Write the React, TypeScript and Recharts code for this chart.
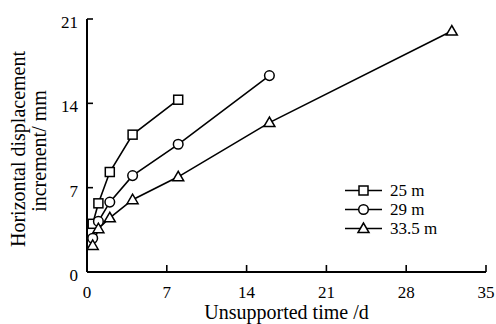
import React from 'react';
import { LineChart, Line, XAxis, YAxis } from 'recharts';

const days25 = [0.5, 1, 2, 4, 8];
const disp25 = [4.0, 5.7, 8.3, 11.4, 14.3];
const days29 = [0.5, 1, 2, 4, 8, 16];
const disp29 = [2.8, 4.2, 5.8, 8.0, 10.6, 16.3];
const days335 = [0.5, 1, 2, 4, 8, 16, 32];
const disp335 = [2.2, 3.6, 4.5, 6.0, 7.9, 12.4, 20.0];

const xTicks = [0, 7, 14, 21, 28, 35];
const yTicks = [0, 7, 14, 21];
const seriesNames = ['25 m', '29 m', '33.5 m'];
const markerTypes = ['square', 'circle', 'triangle'];

const FONT = 'Liberation Serif';

const toData = (xs: number[], ys: number[]) => xs.map((t, i) => ({ t, v: ys[i] }));
const data25 = toData(days25, disp25);
const data29 = toData(days29, disp29);
const data335 = toData(days335, disp335);

function Marker({ type, cx, cy }: { type: string; cx: number; cy: number }) {
  if (type === 'square') {
    return <rect x={cx - 4.5} y={cy - 4.5} width={9} height={9} fill="#fff" stroke="#000" strokeWidth={1.5} />;
  }
  if (type === 'circle') {
    return <circle cx={cx} cy={cy} r={4.8} fill="#fff" stroke="#000" strokeWidth={1.5} />;
  }
  return (
    <polygon
      points={`${cx},${cy - 5.5} ${cx - 5.5},${cy + 4} ${cx + 5.5},${cy + 4}`}
      fill="#fff"
      stroke="#000"
      strokeWidth={1.5}
    />
  );
}

const makeDot = (type: string) => (props: any) => {
  const { cx, cy, index } = props;
  if (cx == null || cy == null) return <g key={`d-${type}-${index}`} />;
  return (
    <g key={`d-${type}-${index}`}>
      <Marker type={type} cx={cx} cy={cy} />
    </g>
  );
};

const X_MARGIN = 14;
const Y_MARGIN = 9;
const tickStyle = { fontFamily: FONT, fontSize: 17, fill: '#000' };
const titleStyle = { fontFamily: FONT, fontSize: 20, fill: '#000' };

const XTick = (p: any) => {
  const axisY = p.y - X_MARGIN;
  return (
    <g>
      <line x1={p.x} x2={p.x} y1={axisY} y2={axisY - 7} stroke="#000" strokeWidth={1.6} />
      <text x={p.x} y={p.y} dy="0.71em" textAnchor="middle" style={tickStyle}>
        {p.payload.value}
      </text>
    </g>
  );
};

const YTick = (p: any) => {
  const axisX = p.x + Y_MARGIN;
  return (
    <g>
      <line x1={axisX} x2={axisX + 6} y1={p.y} y2={p.y} stroke="#000" strokeWidth={1.6} />
      <text x={p.x} y={p.y} dy={9} textAnchor="end" style={tickStyle}>
        {p.payload.value}
      </text>
    </g>
  );
};

const YLabel = (props: any) => {
  const vb = props.viewBox || { x: 0, y: 19, width: 87, height: 253 };
  const c = vb.y + vb.height / 2;
  const c1 = c + 3.5;
  const c2 = c + 5.5;
  return (
    <g>
      <text x={25} y={c1} transform={`rotate(-90 25 ${c1})`} textAnchor="middle" style={titleStyle}>
        Horizontal displacement
      </text>
      <text x={46} y={c2} transform={`rotate(-90 46 ${c2})`} textAnchor="middle" style={titleStyle}>
        increment/ mm
      </text>
    </g>
  );
};

const LegendBox = () => (
  <div style={{ position: 'absolute', left: 345, top: 180.5, fontFamily: FONT, fontSize: 17, color: '#000' }}>
    {seriesNames.map((name, i) => (
      <div key={name} style={{ display: 'flex', alignItems: 'center', height: 19, lineHeight: '19px' }}>
        <svg width={37} height={19} style={{ display: 'block' }}>
          <line x1={0} x2={37} y1={9.5} y2={9.5} stroke="#000" strokeWidth={1.5} />
          <Marker type={markerTypes[i]} cx={18.5} cy={9.5} />
        </svg>
        <span style={{ marginLeft: 8, whiteSpace: 'nowrap' }}>{name}</span>
      </div>
    ))}
  </div>
);

export default function App() {
  return (
    <div style={{ position: 'absolute', left: 0, top: 0, width: 496, height: 324, background: '#fff' }}>
      <LineChart width={496} height={324} margin={{ top: 19, right: 10, bottom: 0, left: 0 }}>
        <XAxis
          type="number"
          dataKey="t"
          domain={[0, 35]}
          ticks={xTicks}
          interval={0}
          height={52}
          tickSize={0}
          tickMargin={X_MARGIN}
          tickLine={false}
          tick={XTick}
          axisLine={{ stroke: '#000', strokeWidth: 2 }}
          allowDataOverflow
          label={{
            value: 'Unsupported time /d',
            position: 'insideBottom',
            offset: 5,
            style: titleStyle,
          }}
        />
        <YAxis
          type="number"
          dataKey="v"
          domain={[0, 21]}
          ticks={yTicks}
          interval={0}
          width={87}
          tickSize={0}
          tickMargin={Y_MARGIN}
          tickLine={false}
          tick={YTick}
          axisLine={{ stroke: '#000', strokeWidth: 2 }}
          allowDataOverflow
          label={{ content: YLabel }}
        />
        <Line data={data25} dataKey="v" name="25 m" stroke="#000" strokeWidth={1.6} dot={makeDot('square')} isAnimationActive={false} />
        <Line data={data29} dataKey="v" name="29 m" stroke="#000" strokeWidth={1.6} dot={makeDot('circle')} isAnimationActive={false} />
        <Line data={data335} dataKey="v" name="33.5 m" stroke="#000" strokeWidth={1.6} dot={makeDot('triangle')} isAnimationActive={false} />
      </LineChart>
      <LegendBox />
    </div>
  );
}
